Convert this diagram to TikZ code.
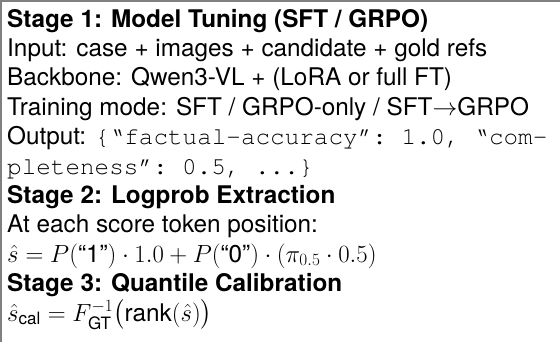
\documentclass[tikz,border=0pt]{standalone}
\usepackage{amsmath}
\usepackage{fontspec}
\setmainfont{TeX Gyre Heros}
\setmonofont{TeX Gyre Cursor}
\usepackage{tikz}
\tikzset{
  txtline/.style={anchor=base west, inner sep=0pt, font=\fontsize{24.4}{29.4}\selectfont},
  headline/.style={txtline, font=\fontsize{24.4}{29.4}\selectfont\bfseries},
  frameline/.style={draw=gray, line width=1.5bp}
}

\begin{document}
\begin{tikzpicture}[x=1bp, y=-1bp]
            \useasboundingbox (0,0) rectangle (560,342);
            % frame (only top and left edges are in view)
            \draw[frameline] (1,342) |- (560,1);

            % stage 1
            \node[headline] (s1) at (7,27) {Stage 1: Model Tuning (SFT / GRPO)};
            \node[txtline] (input) at (7,56.4) {Input: case + images + candidate + gold refs};
            \node[txtline] (backbone) at (7,85.8) {Backbone: Qwen3-VL + (LoRA or full FT)};
            \node[txtline] (mode) at (7,115.2) {Training mode: SFT / GRPO-only / SFT$\rightarrow$GRPO};
            \node[txtline] (out) at (7,144.6) {Output: \texttt{\{“factual-accuracy”: 1.0, “com-}};
            \node[txtline] (outcont) at (7,174) {\texttt{pleteness”: 0.5, ...\}}};

            % stage 2
            \node[headline] (s2) at (7,203.4) {Stage 2: Logprob Extraction};
            \node[txtline] (pos) at (7,232.8) {At each score token position:};
            \node[txtline] (shat) at (7,262.2) {$\hat{s} = P(\text{“1”})\cdot 1.0 + P(\text{“0”})\cdot(\pi_{0.5}\cdot 0.5)$};

            % stage 3
            \node[headline] (s3) at (7,291.6) {Stage 3: Quantile Calibration};
            \node[txtline] (scal) at (7,321) {$\hat{s}_{\text{cal}} = F_{\text{GT}}^{-1}\bigl(\text{rank}(\hat{s})\bigr)$};
\end{tikzpicture}
\end{document}
